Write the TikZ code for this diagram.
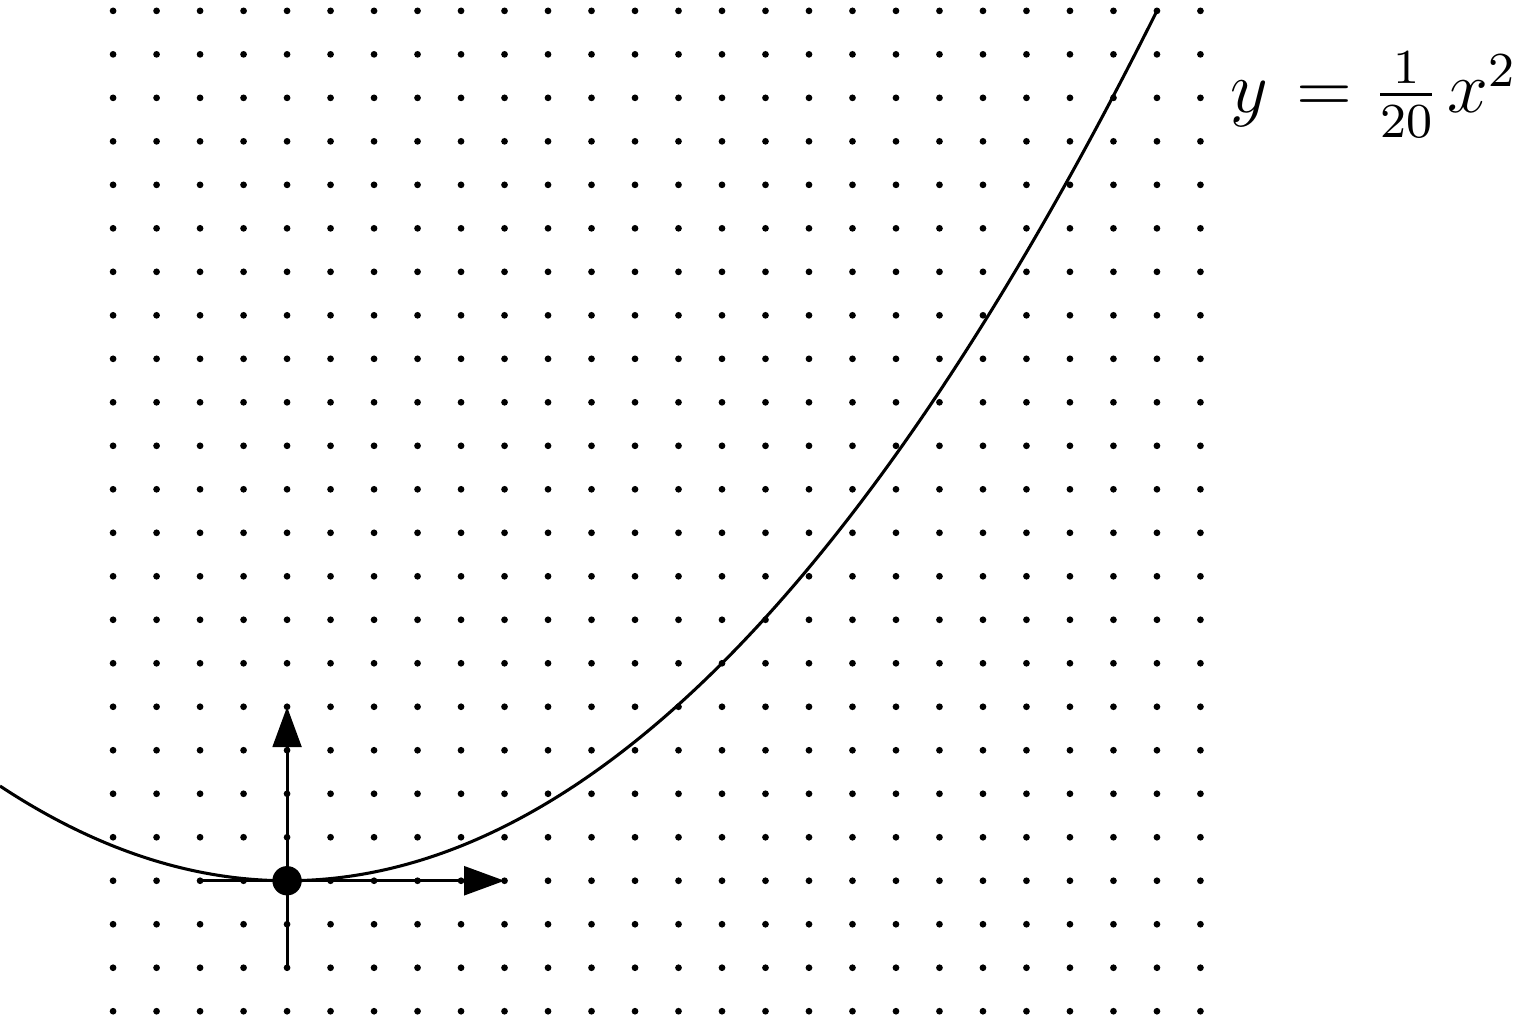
\documentclass[tikz,border=0pt]{standalone}
\usetikzlibrary{arrows.meta}
\begin{document}
\begin{tikzpicture}[x=0.25cm, y=0.25cm, line width=0.5pt, >={Triangle[length=6.6pt,width=4.7pt]}]
        \useasboundingbox (-6.6,-3.2) rectangle (28.44,20.25);

        % Grid of dots
        \foreach \i in {-4,...,21}
            \foreach \j in {-3,...,20}
                \fill (\i,\j) circle (0.55pt);

        % Parabola
        \draw[smooth, samples=120, domain=-6.6:20] plot (\x, {\x*\x/20});
        \node[anchor=base west, inner sep=0pt] (lbl) at (21.65,17.66) {\large $y \mkern2mu= \frac{1}{20}\mkern2mu x^2$};

        % Axes at the vertex
        \coordinate (O) at (0,0);
        \coordinate (xl) at (-2,0);
        \coordinate (xr) at (5,0);
        \coordinate (yb) at (0,-2);
        \coordinate (yt) at (0,4);
        \draw[->] (xl) -- (xr);
        \draw[->] (yb) -- (yt);
        \fill (O) circle (2.4pt);
    \end{tikzpicture}
\end{document}
